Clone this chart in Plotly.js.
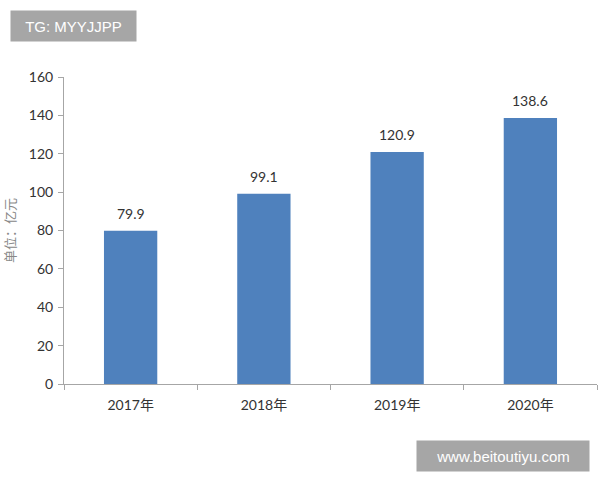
<!DOCTYPE html>
<html>
<head>
<meta charset="utf-8">
<script src="https://cdn.plot.ly/plotly-3.0.1.min.js"></script>
<style>html,body{margin:0;padding:0;background:#fff;}#chart{width:600px;height:480px;}</style>
</head>
<body>
<div id="chart"></div>
<script>
const categories = ["2017年", "2018年", "2019年", "2020年"];
const values = [79.9, 99.1, 120.9, 138.6];
const labels = ["79.9", "99.1", "120.9", "138.6"];
const yTicks = [0, 20, 40, 60, 80, 100, 120, 140, 160];

const trace = {
  type: "bar",
  x: categories,
  y: values,
  marker: {color: "#4F81BD", line: {width: 0}},
  hoverinfo: "none"
};

const valueLabels = categories.map((c, i) => ({
  x: c, y: values[i], xref: "x", yref: "y", text: labels[i],
  showarrow: false, yanchor: "bottom", yshift: 7,
  font: {family: "Lato, 'Noto Sans CJK SC', sans-serif", size: 14, color: "#333"}
}));

const layout = {
  width: 600, height: 480,
  margin: {l: 64, r: 3, t: 77, b: 96},
  paper_bgcolor: "#fff", plot_bgcolor: "#fff",
  bargap: 0.6,
  showlegend: false,
  font: {family: "Lato, 'Noto Sans CJK SC', sans-serif", color: "#333"},
  xaxis: {
    type: "category",
    showline: true, linecolor: "#a6a6a6", linewidth: 1,
    ticks: "outside", tickson: "boundaries", ticklen: 5, tickcolor: "#a6a6a6",
    ticklabelstandoff: 8,
    showgrid: false, zeroline: false,
    tickfont: {family: "Lato, 'Noto Sans CJK SC', sans-serif", size: 14, color: "#333"}
  },
  yaxis: {
    range: [0, 160],
    tickvals: yTicks,
    showline: true, linecolor: "#a6a6a6", linewidth: 1,
    ticks: "outside", ticklen: 5, tickcolor: "#a6a6a6",
    ticklabelstandoff: 2,
    showgrid: false, zeroline: false,
    tickfont: {family: "Lato, 'Noto Sans CJK SC', sans-serif", size: 14, color: "#333"},
    title: {text: "单位：亿元", standoff: 14, font: {family: "'Noto Sans CJK SC', sans-serif", size: 13, color: "#888"}}
  },
  annotations: valueLabels.concat([
    {text: "TG: MYYJJPP", xref: "paper", yref: "paper", x: 0, y: 1, xanchor: "left", yanchor: "top",
     xshift: -54, yshift: 67, showarrow: false, bgcolor: "#a6a6a6",
     font: {family: "'Liberation Sans', Arial, sans-serif", size: 15, color: "#fff"},
     borderpad: 6, width: 113, height: 18},
    {text: "www.beitoutiyu.com", xref: "paper", yref: "paper", x: 1, y: 0, xanchor: "right", yanchor: "top",
     xshift: -7, yshift: -56, showarrow: false, bgcolor: "#a6a6a6",
     font: {family: "'Liberation Sans', Arial, sans-serif", size: 15, color: "#fff"},
     borderpad: 6, width: 160, height: 18}
  ])
};

Plotly.newPlot("chart", [trace], layout, {displayModeBar: false, staticPlot: true});
</script>
</body>
</html>
